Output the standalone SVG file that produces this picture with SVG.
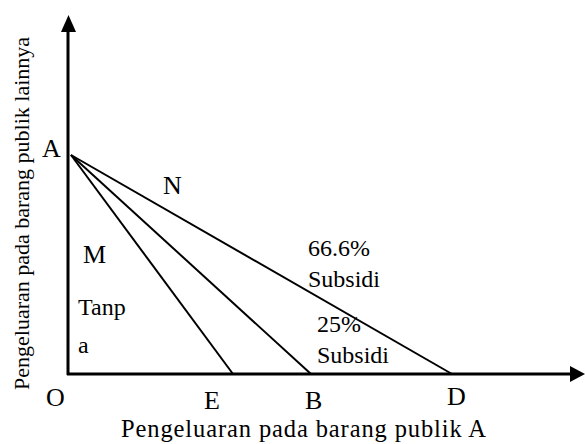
<svg xmlns="http://www.w3.org/2000/svg" width="585" height="444" viewBox="0 0 585 444">
<style>
text{font-family:"Liberation Serif","Times New Roman",serif;fill:#000}
.pt{font-size:26px}
.sm{font-size:24px}
.ttl{font-size:24.5px}
.yt{font-size:22px}
.ax{stroke:#000;stroke-width:3;fill:none}
.ln{stroke:#000;stroke-width:2;fill:none}
</style>
<rect width="585" height="444" fill="#fff"/>
<g id="connectors">
<line class="ax" x1="68" y1="375" x2="68" y2="30"/>
<polygon points="68.5,15 61,32 76,32" fill="#000"/>
<line class="ax" x1="67" y1="374" x2="572" y2="374"/>
<polygon points="585,374 570,366 570,382" fill="#000"/>
<line class="ln" x1="71" y1="155" x2="233" y2="374"/>
<line class="ln" x1="71" y1="155" x2="311" y2="374"/>
<line class="ln" x1="71" y1="155" x2="452" y2="374"/>
</g>
<g id="label-A"><text class="pt" x="42" y="157">A</text></g>
<g id="label-N"><text class="pt" x="163" y="194">N</text></g>
<g id="label-M"><text class="pt" x="83" y="263">M</text></g>
<g id="label-tanpa"><text class="sm" x="78" y="315">Tanp</text><text class="sm" x="78" y="353">a</text></g>
<g id="label-66"><text class="sm" x="308" y="256">66.6%</text><text class="sm" x="308" y="287">Subsidi</text></g>
<g id="label-25"><text class="sm" x="317" y="332">25%</text><text class="sm" x="317" y="363">Subsidi</text></g>
<g id="label-O"><text class="pt" x="46" y="406">O</text></g>
<g id="label-E"><text class="pt" x="204" y="409">E</text></g>
<g id="label-B"><text class="pt" x="305" y="409">B</text></g>
<g id="label-D"><text class="pt" x="447" y="405">D</text></g>
<g id="title-x"><text class="ttl" x="121" y="437" textLength="365" lengthAdjust="spacing">Pengeluaran pada barang publik A</text></g>
<g id="title-y"><text class="yt" transform="translate(28.5,390) rotate(-90)">Pengeluaran pada barang publik  lainnya</text></g>
</svg>
